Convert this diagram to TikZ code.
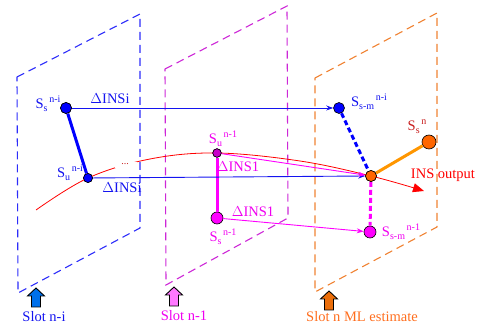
\documentclass[tikz,border=0pt]{standalone}
\usepackage{fontspec}
\setmainfont{Liberation Serif}
\usetikzlibrary{arrows.meta}
\definecolor{bluep}{RGB}{45,45,250}
\definecolor{bluet}{RGB}{20,20,240}
\definecolor{bluef}{RGB}{0,0,255}
\definecolor{bluearr}{RGB}{0,112,235}
\definecolor{magp}{RGB}{205,40,215}
\definecolor{magt}{RGB}{240,0,240}
\definecolor{magf}{RGB}{255,0,255}
\definecolor{magdark}{RGB}{200,0,200}
\definecolor{magarr}{RGB}{255,120,255}
\definecolor{orap}{RGB}{240,130,50}
\definecolor{orat}{RGB}{255,110,30}
\definecolor{oraf}{RGB}{255,102,0}
\definecolor{oraline}{RGB}{255,150,0}
\definecolor{oraarr}{RGB}{235,110,10}
\definecolor{redc}{RGB}{255,0,0}
\definecolor{darkred}{RGB}{200,30,30}
\newcommand{\bigf}{\fontsize{14.5}{16}\selectfont}
\newcommand{\smf}{\fontsize{10}{10}\selectfont}
\newcommand{\Slab}[2]{S\raisebox{-0.45ex}{\smf #1}\raisebox{0.95ex}{\smf\,#2}}
\begin{document}
\begin{tikzpicture}[x=1pt,y=-1pt,
  plane/.style={dashed, dash pattern=on 8pt off 5pt, line width=1.1pt},
  pt/.style={circle, draw=black, line width=0.6pt, inner sep=0pt},
  lbl/.style={inner sep=0pt, font=\bigf},
  thin arrow/.style={line width=0.9pt, -{Stealth[length=7pt,width=5pt]}},
  slotarrow/.style={draw=black, line width=0.9pt, line join=miter}]
\useasboundingbox (0,0) rectangle (477,328);
% planes
\draw[plane, bluep] (17,77) -- (140,14) -- (140,228) -- (18,293) -- cycle;
\draw[plane, magp] (165,69) -- (287,6) -- (288,218) -- (166,285) -- cycle;
\draw[plane, orap] (315,78) -- (437,13) -- (437,227) -- (315,292) -- cycle;
% points
\node[pt, fill=bluef, minimum size=11pt] (ssi) at (66,108) {};
\node[pt, fill=bluef, minimum size=9pt] (sui) at (88,178) {};
\node[pt, fill=bluef, minimum size=11pt] (ssmi) at (339,108) {};
\node[pt, fill=magdark, minimum size=8.5pt] (su1) at (217,153) {};
\node[pt, fill=magf, minimum size=12pt] (ss1) at (217,218) {};
\node[pt, fill=magf, minimum size=12pt] (ssm1) at (370,232) {};
\node[pt, fill=oraf, minimum size=11pt] (est) at (371,176) {};
\node[pt, fill=oraf, minimum size=14pt] (ssn) at (429,142) {};
% red curve
\draw[redc, line width=0.8pt, -{Triangle[length=11pt,width=9pt]}]
  plot[smooth, tension=0.6] coordinates {(36,210) (88,178) (150,159) (217,153) (300,161) (371,176) (424,191)};
\node[fill=white, inner sep=0pt, minimum width=22pt, minimum height=6pt] (gap) at (126,165) {};
\node[inner sep=0pt, text=darkred, font=\smf] (dots) at (125,164) {...};
% connectors
\draw[bluef, line width=3pt] (ssi) -- (sui);
\draw[magf, line width=3pt] (su1) -- (ss1);
\draw[oraline, line width=3pt] (est) -- (ssn);
\draw[bluef, line width=3pt, dash pattern=on 5pt off 3pt] (ssmi) -- (est);
\draw[magf, line width=3pt, dash pattern=on 5pt off 3pt] (est) -- (ssm1);
\draw[bluet, thin arrow] (ssi) -- (ssmi);
\draw[bluet, thin arrow] (sui) -- (est.west);
\draw[magf, thin arrow] (su1) -- (est);
\draw[magf, thin arrow] (ss1) -- (ssm1);
% redraw points on top
\node[pt, fill=bluef, minimum size=11pt] at (ssi) {};
\node[pt, fill=bluef, minimum size=9pt] at (sui) {};
\node[pt, fill=magdark, minimum size=8.5pt] at (su1) {};
\node[pt, fill=oraf, minimum size=11pt] at (est) {};
% labels
\node[lbl, text=bluet] (lssi) at (48,104) {\Slab{s}{n-i}};
\node[lbl, text=bluet] (lsui) at (70,173) {\Slab{u}{n-i}};
\node[lbl, text=bluet] (lssmi) at (369,102) {\Slab{s-m}{n-i}};
\node[lbl, text=magt] (lsu1) at (223,139) {\Slab{u}{n-1}};
\node[lbl, text=magt] (lss1) at (223,237) {\Slab{s}{n-1}};
\node[lbl, text=magt] (lssm1) at (401,232) {\Slab{s-m}{n-1}};
\node[lbl, text=darkred] (lssn) at (417,127) {\Slab{s}{n}};
\node[lbl, text=redc] (insout) at (443,175) {INS output};
\node[lbl, text=bluet] (d1) at (110,99) {$\Delta$INSi};
\node[lbl, text=bluet] (d2) at (122,188) {$\Delta$INSi};
\node[lbl, text=magt] (d3) at (238,167) {$\Delta$INS1};
\node[lbl, text=magt] (d4) at (253,212) {$\Delta$INS1};
% slot arrows
\draw[slotarrow, fill=bluearr] (36,288) -- ++(8.5,8) -- ++(-4,0) -- ++(0,11) -- ++(-9,0) -- ++(0,-11) -- ++(-4,0) -- cycle;
\draw[slotarrow, fill=magarr] (174,287) -- ++(8.5,8) -- ++(-4,0) -- ++(0,11) -- ++(-9,0) -- ++(0,-11) -- ++(-4,0) -- cycle;
\draw[slotarrow, fill=oraarr] (329,291) -- ++(8.5,8) -- ++(-4,0) -- ++(0,11) -- ++(-9,0) -- ++(0,-11) -- ++(-4,0) -- cycle;
\node[lbl, text=bluet] (s1) at (44,317) {Slot n-i};
\node[lbl, text=magt] (s2) at (184,316) {Slot n-1};
\node[lbl, text=orat] (s3) at (362,317) {Slot n ML estimate};
\end{tikzpicture}
\end{document}
